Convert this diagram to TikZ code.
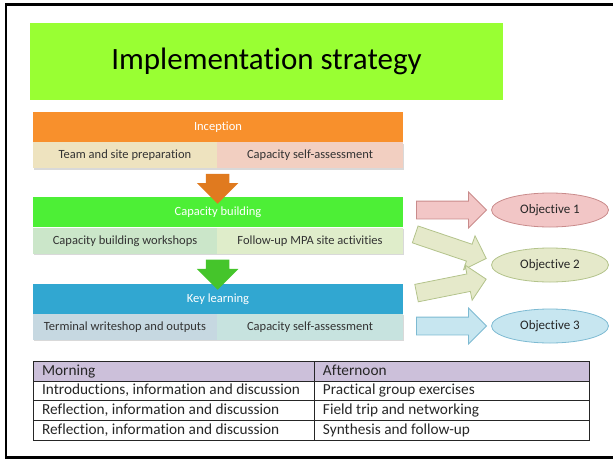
\documentclass[tikz,border=0pt]{standalone}
\usepackage{fontspec}
\setmainfont{Carlito}[Ligatures=NoCommon]
\usepackage{xcolor}
\usepackage{colortbl}
\usepackage{tikz}
\usetikzlibrary{shapes, arrows.meta, positioning, calc, shadows}
\definecolor{titgreen}{HTML}{99FF33}
\definecolor{incorange}{HTML}{F8902C}
\definecolor{incleft}{HTML}{EEE3BF}
\definecolor{incright}{HTML}{F2CFC1}
\definecolor{incarrow}{HTML}{E07A1F}
\definecolor{capgreen}{HTML}{4DEF36}
\definecolor{capleft}{HTML}{CBE6C9}
\definecolor{capright}{HTML}{DFEDCA}
\definecolor{caparrow}{HTML}{45C52B}
\definecolor{keyblue}{HTML}{31A7D1}
\definecolor{keyleft}{HTML}{C6D8E1}
\definecolor{keyright}{HTML}{C7E3DF}
\definecolor{obj1fill}{HTML}{F2C6C6}
\definecolor{obj1line}{HTML}{C98B8B}
\definecolor{obj2fill}{HTML}{E5E9CA}
\definecolor{obj2line}{HTML}{B3C38B}
\definecolor{obj3fill}{HTML}{C7E6F0}
\definecolor{obj3line}{HTML}{7DBAD2}
\definecolor{tabhead}{HTML}{CCC0DA}
\tikzstyle{titlebox} = [rectangle, minimum width=473pt, minimum height=77pt, text centered, fill=titgreen, font=\fontsize{31}{36}\selectfont]
\tikzstyle{header} = [rectangle, minimum width=370pt, minimum height=30pt, text centered, text=white, inner sep=0pt, font=\fontsize{12.5}{14}\selectfont]
\tikzstyle{cell} = [rectangle, minimum height=26pt, text centered, inner sep=0pt, text=black!80, font=\fontsize{12.5}{14}\selectfont,
    drop shadow={opacity=0.3, shadow xshift=0.8pt, shadow yshift=-1.2pt}]
\tikzstyle{downarrow} = [single arrow, rotate=-90, minimum height=30pt, inner xsep=0pt, inner ysep=11.5pt, single arrow head extend=9pt]
\tikzstyle{fatarrow} = [single arrow, minimum height=70pt, inner xsep=0pt, inner ysep=8.5pt, single arrow head extend=9pt, line width=0.8pt]
\tikzstyle{objective} = [ellipse, minimum width=117pt, minimum height=34pt, line width=0.8pt, text=black!85, font=\fontsize{13}{15}\selectfont]

\begin{document}
\begin{tikzpicture}[x=1pt, y=-1pt]
\useasboundingbox (0,0) rectangle (613,461);
\draw[line width=2.5pt] (613,4.5) -- (6,4.5) -- (6,457.5) -- (613,457.5);

\node (title) [titlebox] at (266.5,61.5) {Implementation strategy};

%Fase 1==============================================
\node (inc) [header, fill=incorange] at (218,127) {Inception};
\node (inc1) [cell, fill=incleft, minimum width=184pt, anchor=north west] at (inc.south west) {Team and site preparation};
\node (inc2) [cell, fill=incright, minimum width=186pt, anchor=north east] at (inc.south east) {Capacity self-assessment};

%Fase 2==============================================
\node (cap) [header, fill=capgreen, below=55pt of inc] {Capacity building};
\node (cap1) [cell, fill=capleft, minimum width=184pt, anchor=north west] at (cap.south west) {Capacity building workshops};
\node (cap2) [cell, fill=capright, minimum width=186pt, anchor=north east] at (cap.south east) {Follow-up MPA site activities};

%Fase 3==============================================
\node (key) [header, fill=keyblue, below=56pt of cap] {Key learning};
\node (key1) [cell, fill=keyleft, minimum width=184pt, anchor=north west] at (key.south west) {Terminal writeshop and outputs};
\node (key2) [cell, fill=keyright, minimum width=186pt, anchor=north east] at (key.south east) {Capacity self-assessment};

\node (arr1) [downarrow, fill=incarrow] at ($(inc1.south east)!.5!(cap.north)$) {};
\node (arr2) [downarrow, fill=caparrow] at ($(cap1.south east)!.5!(key.north)$) {};

%Objetivos==============================================
\node (obj1) [objective, fill=obj1fill, draw=obj1line] at (550,210) {Objective 1};
\node (obj2) [objective, fill=obj2fill, draw=obj2line] at (550,265) {Objective 2};
\node (obj3) [objective, fill=obj3fill, draw=obj3line] at (550,326) {Objective 3};

\node (fat1) [fatarrow, fill=obj1fill, draw=obj1line] at (447,210) {};
\node (fat2) [fatarrow, fill=obj2fill, draw=obj2line, minimum height=75pt, rotate=-18.7] at (446.5,245) {};
\node (fat3) [fatarrow, fill=obj2fill, draw=obj2line, minimum height=71pt, rotate=11.3] at (447,287) {};
\node (fat4) [fatarrow, fill=obj3fill, draw=obj3line] at (447,326) {};

%Tabla==============================================
\node (tab) [anchor=north west, inner sep=0pt, text=black!85, font=\fontsize{15.3}{18}\selectfont] at (33,361) {%
  \setlength{\tabcolsep}{8pt}\setlength{\arrayrulewidth}{0.9pt}\renewcommand{\arraystretch}{1.04}%
  \begin{tabular}{|p{264pt}|p{258pt}|}
  \hline
  \rowcolor{tabhead} Morning & Afternoon\\ \hline
  Introductions, information and discussion & Practical group exercises\\ \hline
  Reflection, information and discussion & Field trip and networking\\ \hline
  Reflection, information and discussion & Synthesis and follow-up\\ \hline
  \end{tabular}};
\end{tikzpicture}
\end{document}
